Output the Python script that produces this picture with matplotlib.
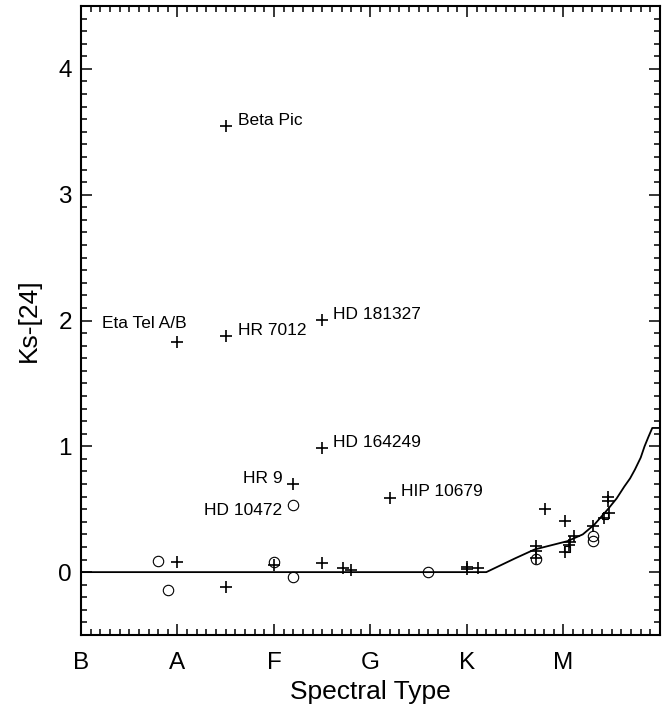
import numpy as np
import matplotlib
matplotlib.use("Agg")
import matplotlib.pyplot as plt
from matplotlib.ticker import MultipleLocator

plt.rcParams["font.family"] = ["Liberation Sans", "DejaVu Sans"]

# spectral class scale: B=0, A=1, F=2, G=3, K=4, M=5
class_names = ["B", "A", "F", "G", "K", "M"]

# stars measured with a detection (plus signs)
plus_x = [1.0, 1.0, 1.5, 1.5, 1.5, 2.0, 2.2, 2.5, 2.5, 2.5, 2.71, 2.80, 3.2,
          4.0, 4.0, 4.11, 4.71, 4.71, 4.71, 4.81, 5.015, 5.015, 5.06, 5.07,
          5.11, 5.31, 5.46, 5.46, 5.475, 5.42]
plus_y = [1.83, 0.08, 3.55, 1.875, -0.12, 0.06, 0.70, 2.005, 0.985, 0.072,
          0.03, 0.016, 0.593, 0.040, 0.021, 0.029, 0.205, 0.167, 0.11, 0.50,
          0.41, 0.16, 0.212, 0.238, 0.29, 0.37, 0.595, 0.563, 0.47, 0.43]

# open circles
circle_x = [0.80, 0.90, 2.0, 2.2, 2.2, 3.6, 4.71, 5.31, 5.31]
circle_y = [0.085, -0.145, 0.082, 0.535, -0.037, -0.002, 0.105, 0.29, 0.245]

# small open squares
square_x = [5.04, 5.43]
square_y = [0.185, 0.45]

# photospheric colour curve
model_x = [0.0, 4.2, 4.5, 4.7, 5.04, 5.2, 5.32, 5.46, 5.55, 5.63, 5.69,
           5.74, 5.8, 5.84, 5.88, 5.92, 6.0]
model_y = [0.0, 0.0, 0.11, 0.18, 0.246, 0.30, 0.378, 0.50, 0.585, 0.68, 0.745,
           0.815, 0.91, 1.0, 1.075, 1.146, 1.146]

# labelled stars
label_names = ["Beta Pic", "Eta Tel A/B", "HR 7012", "HD 181327", "HD 164249",
               "HR 9", "HD 10472", "HIP 10679"]
label_x = [1.5, 1.0, 1.5, 2.5, 2.5, 2.2, 2.2, 3.2]
label_y = [3.55, 1.83, 1.875, 2.005, 0.985, 0.70, 0.535, 0.593]
label_off = [(12, 5), (9, 18), (12, 6), (11, 5), (11, 6), (-11, 6), (-11, -6), (11, 6)]
label_ha = ["left", "right", "left", "left", "left", "right", "right", "left"]

fig = plt.figure(figsize=(6.71, 7.07), dpi=100)
ax = fig.add_axes([0.1207, 0.1018, 0.8629, 0.8897])

ax.plot(model_x, model_y, color="k", lw=1.3)
ax.plot(plus_x, plus_y, ls="none", marker="+", ms=8.5, mew=1.2, color="k")
ax.plot(circle_x, circle_y, ls="none", marker="o", ms=7.5, mew=0.8,
        mfc="none", mec="k")
ax.plot(square_x, square_y, ls="none", marker="s", ms=4, mew=0.8,
        mfc="none", mec="k")

for name, x, y, off, ha in zip(label_names, label_x, label_y, label_off, label_ha):
    ax.annotate(name, (x, y), xytext=off, textcoords="offset pixels",
                ha=ha, va="center", fontsize=12.5)

ax.set_xlim(0, 6)
ax.set_ylim(-0.5, 4.5)
ax.set_xticks(np.arange(len(class_names)))
ax.set_xticklabels(class_names)
ax.xaxis.set_minor_locator(MultipleLocator(0.1))
ax.set_yticks([0, 1, 2, 3, 4])
ax.yaxis.set_minor_locator(MultipleLocator(0.1))

ax.tick_params(which="both", direction="in", top=True, right=True, width=1.1)
ax.tick_params(which="major", length=8, labelsize=17.5)
ax.tick_params(axis="x", which="major", pad=12)
ax.tick_params(axis="y", which="major", pad=6.5)
ax.tick_params(which="minor", length=4.5)
for s in ax.spines.values():
    s.set_linewidth(1.5)

ax.set_xlabel("Spectral Type", fontsize=19)
ax.set_ylabel("Ks-[24]", fontsize=19)
ax.xaxis.set_label_coords(0.5, -0.071)
ax.yaxis.set_label_coords(-0.07, 0.5)

fig.savefig("out.png", dpi=100)
